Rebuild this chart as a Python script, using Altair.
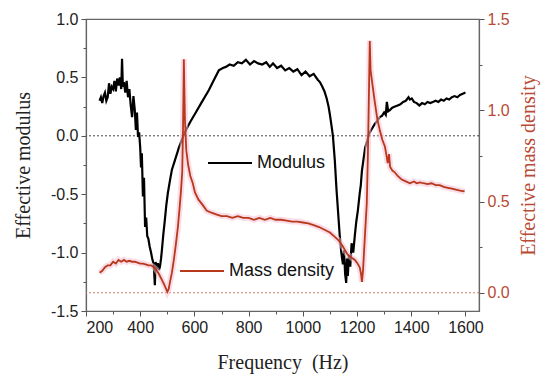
import altair as alt
import pandas as pd

# ---------------- data ----------------
mod_freq = [
    250, 255, 260, 265, 270, 275, 280, 285, 290, 295,
    300, 305, 310, 315, 320, 325, 330, 333, 336, 340,
    345, 350, 355, 360, 365, 370, 375, 380, 384, 388,
    392, 396, 400, 403, 406, 410, 414, 418, 422, 426,
    430, 435, 440, 445, 450, 454, 457, 461, 465, 469,
    473, 477, 480, 485, 491, 496, 502, 510, 517, 528,
    543, 556, 569, 585, 605, 625, 653, 670, 690, 705,
    716, 730, 745, 760, 775, 790, 805, 820, 835, 850,
    865, 878, 890, 905, 920, 935, 950, 965, 980, 995,
    1010, 1025, 1040, 1055, 1063, 1072, 1080, 1088, 1095, 1100,
    1105, 1111, 1118, 1124, 1130, 1136, 1142, 1148, 1152, 1156,
    1160, 1163, 1166, 1170, 1175, 1180, 1186, 1192, 1197, 1203,
    1210, 1214, 1218, 1224, 1230, 1238, 1245, 1255, 1265, 1275,
    1284, 1292, 1300, 1306, 1310, 1315, 1321, 1330, 1340, 1350,
    1360, 1370, 1380, 1390, 1395, 1402, 1410, 1420, 1430, 1440,
    1450, 1460, 1470, 1480, 1490, 1500, 1510, 1520, 1530, 1540,
    1550, 1560, 1570, 1580, 1590, 1600,
]
mod_val = [
    0.30, 0.33, 0.28, 0.34, 0.37, 0.30, 0.33, 0.45, 0.36, 0.42,
    0.40, 0.47, 0.38, 0.49, 0.43, 0.50, 0.40, 0.66, 0.42, 0.46,
    0.37, 0.47, 0.33, 0.40, 0.26, 0.16, 0.34, 0.22, 0.05, 0.20,
    -0.01, 0.03, -0.10, -0.27, -0.15, -0.52, -0.36, -0.78, -0.70, -0.86,
    -0.88, -0.95, -1.00, -1.06, -1.10, -1.28, -1.08, -1.14, -1.09, -1.15,
    -1.12, -1.05, -0.98, -0.85, -0.72, -0.60, -0.49, -0.38, -0.29, -0.21,
    -0.10, -0.02, 0.05, 0.12, 0.20, 0.28, 0.39, 0.47, 0.56, 0.58,
    0.59, 0.61, 0.60, 0.63, 0.62, 0.65, 0.61, 0.64, 0.62, 0.61,
    0.63, 0.59, 0.62, 0.58, 0.60, 0.56, 0.58, 0.55, 0.57, 0.52,
    0.55, 0.51, 0.53, 0.48, 0.46, 0.42, 0.38, 0.32, 0.25, 0.18,
    0.10, 0.00, -0.21, -0.45, -0.65, -0.85, -1.00, -1.10, -0.98, -1.18,
    -1.26, -1.05, -1.20, -1.02, -1.12, -0.92, -1.00, -0.85, -0.74, -0.64,
    -0.49, -0.42, -0.30, -0.20, -0.10, -0.04, 0.02, 0.06, 0.10, 0.13,
    0.16, 0.17, 0.20, 0.18, 0.29, 0.21, 0.22, 0.24, 0.25, 0.26,
    0.27, 0.29, 0.30, 0.33, 0.31, 0.32, 0.29, 0.28, 0.26, 0.28,
    0.27, 0.29, 0.28, 0.29, 0.30, 0.29, 0.31, 0.30, 0.32, 0.31,
    0.33, 0.34, 0.33, 0.35, 0.36, 0.37,
]

den_freq = [
    250, 260, 270, 280, 290, 300, 310, 320, 330, 340,
    350, 360, 370, 380, 390, 400, 410, 420, 430, 440,
    450, 460, 470, 480, 490, 500, 505, 510, 517, 525,
    532, 539, 545, 550, 555, 558, 561, 565, 570, 577,
    585, 594, 602, 615, 631, 645, 660, 680, 700, 720,
    740, 760, 780, 800, 820, 840, 860, 880, 900, 920,
    940, 960, 980, 1000, 1020, 1040, 1060, 1080, 1100, 1115,
    1130, 1145, 1155, 1165, 1173, 1182, 1192, 1200, 1210, 1215,
    1218, 1222, 1229, 1236, 1240, 1244, 1247, 1250, 1256, 1266,
    1275, 1284, 1293, 1303, 1310, 1313, 1318, 1322, 1330, 1339,
    1350, 1365, 1380, 1395, 1410, 1420, 1432, 1445, 1460, 1475,
    1490, 1505, 1520, 1535, 1550, 1565, 1580, 1597,
]
den_val = [
    0.11, 0.12, 0.14, 0.15, 0.15, 0.17, 0.16, 0.18, 0.17, 0.18,
    0.17, 0.175, 0.17, 0.17, 0.165, 0.16, 0.16, 0.155, 0.15, 0.15,
    0.14, 0.125, 0.10, 0.07, 0.04, 0.005, 0.02, 0.06, 0.11, 0.19,
    0.27, 0.36, 0.46, 0.55, 0.66, 0.90, 1.28, 0.95, 0.78, 0.70,
    0.64, 0.60, 0.55, 0.51, 0.48, 0.45, 0.44, 0.43, 0.42, 0.42,
    0.41, 0.42, 0.41, 0.41, 0.40, 0.41, 0.40, 0.41, 0.40, 0.40,
    0.395, 0.39, 0.39, 0.385, 0.38, 0.37, 0.36, 0.345, 0.33, 0.31,
    0.29, 0.26, 0.235, 0.21, 0.20, 0.19, 0.18, 0.165, 0.14, 0.10,
    0.06, 0.12, 0.31, 0.49, 0.75, 1.10, 1.38, 1.22, 1.15, 1.04,
    0.95, 0.89, 0.84, 0.80, 0.74, 0.71, 0.76, 0.69, 0.67, 0.66,
    0.64, 0.62, 0.61, 0.60, 0.61, 0.60, 0.605, 0.60, 0.595, 0.60,
    0.59, 0.59, 0.58, 0.575, 0.57, 0.565, 0.56, 0.555,
]

x_ticks = [200, 300, 400, 500, 600, 700, 800, 900, 1000, 1100, 1200, 1300, 1400, 1500, 1600]
left_ticks = [-1.5, -1.25, -1.0, -0.75, -0.5, -0.25, 0.0, 0.25, 0.5, 0.75, 1.0]
right_ticks = [0.0, 0.25, 0.5, 0.75, 1.0, 1.25, 1.5]

# ---------------- tables ----------------
mod_df = pd.DataFrame({"freq": mod_freq, "modulus": mod_val})
mod_df["series"] = "Modulus"
den_df = pd.DataFrame({"freq": den_freq, "density": den_val})
den_df["series"] = "Mass density"
mod_zero = pd.DataFrame({"modulus": [0.0]})
den_zero = pd.DataFrame({"density": [0.0]})

RED = "#b94a35"
LINE_RED = "#b8381c"
SANS = "Liberation Sans"
SERIF = "Liberation Serif"

half_test = "abs(datum.value*2 - round(datum.value*2)) < 0.001"
label_half = f"{half_test} ? replace(format(datum.value, '.1f'), '\u2212', '-') : ''"

x_enc = alt.X(
    "freq:Q",
    scale=alt.Scale(domain=[200, 1650], nice=False, zero=False),
    axis=alt.Axis(
        values=x_ticks,
        format="d",
        labelExpr="datum.value % 200 === 0 ? format(datum.value, 'd') : ''",
        tickSize={"condition": {"test": "datum.value % 200 === 0", "value": 5}, "value": 3},
        title="Frequency\u00a0\u00a0(Hz)",
        titlePadding=17,
        labelPadding=3,
    ),
)

y_left = alt.Y(
    "modulus:Q",
    scale=alt.Scale(domain=[-1.5, 1.0], nice=False, zero=False),
    axis=alt.Axis(
        orient="left",
        values=left_ticks,
        labelExpr=label_half,
        tickSize={"condition": {"test": half_test, "value": 5}, "value": 3},
        title="Effective modulus",
        titlePadding=17,
        labelPadding=3,
    ),
)

y_right = alt.Y(
    "density:Q",
    scale=alt.Scale(domain=[-0.1, 1.5], nice=False, zero=False),
    axis=alt.Axis(
        orient="right",
        values=right_ticks,
        labelExpr=label_half,
        tickSize={"condition": {"test": half_test, "value": 5}, "value": 3},
        title="Effective mass density",
        titleAngle=270,
        titleColor=RED,
        labelColor=RED,
        titlePadding=29,
        labelPadding=3,
    ),
)

legend_common = dict(
    orient="none",
    title=None,
    symbolType="stroke",
    symbolSize=1936,
    symbolStrokeWidth=2,
    labelFont=SANS,
    labelFontSize=18,
    labelColor="#111",
    labelOffset=4,
    padding=0,
)

mod_rule = alt.Chart(mod_zero).mark_rule(color="#444", strokeDash=[2, 2], strokeWidth=1).encode(y=y_left)
mod_line = alt.Chart(mod_df).mark_line(strokeWidth=2.2).encode(
    x=x_enc,
    y=y_left,
    color=alt.Color(
        "series:N",
        scale=alt.Scale(domain=["Modulus"], range=["#000000"]),
        legend=alt.Legend(legendX=121, legendY=121, **legend_common),
    ),
)

den_rule = alt.Chart(den_zero).mark_rule(color="#c98066", strokeDash=[2, 2], strokeWidth=1).encode(y=y_right)
den_halo = alt.Chart(den_df).mark_line(strokeWidth=6, color="#f6bfd3", opacity=0.55).encode(x=x_enc, y=y_right)
den_line = alt.Chart(den_df).mark_line(strokeWidth=1.8).encode(
    x=x_enc,
    y=y_right,
    color=alt.Color(
        "series:N",
        scale=alt.Scale(domain=["Mass density"], range=[LINE_RED]),
        legend=alt.Legend(legendX=93, legendY=229, **legend_common),
    ),
)

left = alt.layer(mod_rule, mod_line)
right = alt.layer(den_rule, den_halo, den_line)

chart = (
    alt.layer(left, right)
    .resolve_scale(y="independent", color="independent")
    .properties(
        width=393,
        height=292,
        autosize=alt.AutoSizeParams(type="none"),
        padding={"left": 78, "top": 11, "right": 62, "bottom": 64},
        background="white",
    )
    .configure_view(stroke="#666", strokeWidth=1.2)
    .configure_axis(
        grid=False,
        domainColor="#666",
        domainWidth=1.2,
        tickColor="#555",
        tickWidth=1,
        labelFont=SANS,
        labelFontSize=16,
        labelColor="#222",
        titleFont=SERIF,
        titleFontSize=20,
        titleFontWeight="normal",
        titleColor="#222",
    )
)

chart.save("out.html", embed_options={"renderer": "svg", "actions": False})
